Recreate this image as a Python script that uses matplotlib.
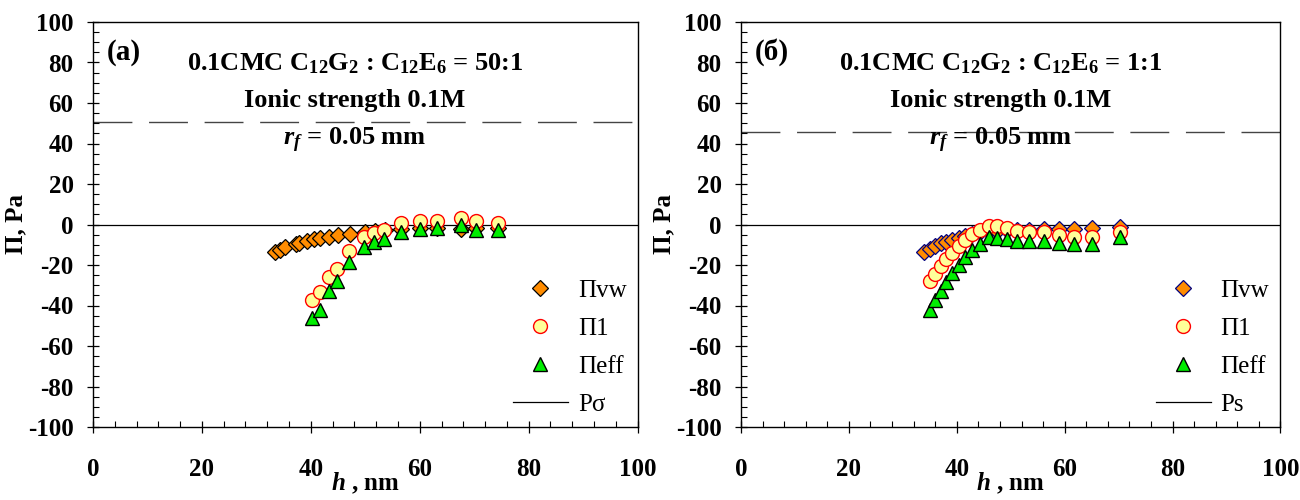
import matplotlib
matplotlib.use("Agg")
import matplotlib.pyplot as plt
from matplotlib.ticker import MultipleLocator

# serif bold everywhere, math parts too
plt.rcParams['font.family'] = ['Liberation Serif', 'DejaVu Serif']
plt.rcParams['mathtext.fontset'] = 'custom'
plt.rcParams['mathtext.rm'] = 'Liberation Serif:bold'
plt.rcParams['mathtext.bf'] = 'Liberation Serif:bold'
plt.rcParams['mathtext.it'] = 'Liberation Serif:italic:bold'
plt.rcParams['axes.unicode_minus'] = False

# (a) C12G2 : C12E6 = 50:1
h_vw_a = [33.5, 34.4, 35.3, 37.2, 37.8, 39.3, 40.6, 41.6, 43.3, 44.9, 47.2,
          50.0, 51.8, 53.6, 56.6, 60.0, 63.2, 67.5, 70.4, 74.3]
p_vw_a = [-13.5, -12.5, -11.0, -9.8, -9.0, -8.0, -7.2, -6.5, -6.0, -5.2, -4.5,
          -3.5, -3.0, -2.5, -2.0, -1.5, -1.5, -2.0, -1.5, -1.5]
h_a = [40.2, 41.6, 43.3, 44.8, 47.0, 49.8, 51.6, 53.5, 56.6, 60.0, 63.2, 67.5, 70.4, 74.3]
p1_a = [-37.5, -33.5, -26.0, -22.0, -13.0, -6.0, -4.0, -2.5, 0.5, 1.5, 1.5, 3.0, 1.5, 0.5]
peff_a = [-46.0, -42.0, -33.0, -28.0, -18.5, -11.0, -8.5, -7.0, -3.5, -2.0, -1.5, 0.0, -2.5, -2.5]
psigma_a = 50.5

# (б) C12G2 : C12E6 = 1:1
h_vw_b = [34.0, 35.0, 36.0, 37.0, 38.0, 39.2, 40.4, 41.6, 42.8, 44.3, 46.0,
          47.5, 49.3, 51.2, 53.3, 56.2, 58.9, 61.8, 65.0, 70.3]
p_vw_b = [-13.5, -12.0, -10.5, -9.3, -8.5, -7.5, -6.5, -5.5, -4.5, -3.5, -3.0,
          -3.0, -2.5, -2.5, -2.5, -2.0, -2.0, -2.0, -1.5, -1.0]
h_b = [35.0, 36.0, 37.0, 38.0, 39.2, 40.4, 41.6, 42.8, 44.3, 46.0, 47.5,
       49.3, 51.2, 53.3, 56.2, 58.9, 61.8, 65.0, 70.3]
p1_b = [-28.0, -24.5, -20.5, -17.0, -14.0, -10.5, -7.5, -4.5, -2.5, -0.5, -0.5,
        -1.5, -3.0, -3.5, -3.5, -5.0, -6.0, -6.0, -3.5]
peff_b = [-42.0, -37.5, -33.0, -28.5, -24.0, -20.0, -16.0, -12.5, -9.5, -6.0, -6.5,
          -7.0, -8.0, -8.0, -8.0, -9.0, -9.5, -9.5, -6.0]
psigma_b = 45.7

fig = plt.figure(figsize=(13, 5), dpi=100)
ax1 = fig.add_axes([0.0715, 0.146, 0.419, 0.81])
ax2 = fig.add_axes([0.570, 0.146, 0.415, 0.81])

panels = [
    (ax1, h_vw_a, p_vw_a, h_a, p1_a, peff_a, psigma_a, 'black', '(a)', '50:1', 'P\u03c3'),
    (ax2, h_vw_b, p_vw_b, h_b, p1_b, peff_b, psigma_b, 'navy', '(\u0431)', '1:1', 'Ps'),
]

for ax, hv, pv, h, p1, pe, ps, dedge, tag, ratio, pslab in panels:
    ax.axhline(ps, color='#444444', lw=1.0, dashes=(28, 12), zorder=1)
    ax.axhline(0, color='black', lw=0.9, zorder=1)
    ax.plot(hv, pv, 'D', ms=8, mfc='darkorange', mec=dedge, mew=0.9,
            label='\u03a0vw', zorder=3)
    ax.plot(h, p1, 'o', ms=10, mfc='#ffff99', mec='red', mew=1.0,
            label='\u03a01', zorder=4)
    ax.plot(h, pe, '^', ms=10, mfc='#00ee00', mec='black', mew=1.0,
            label='\u03a0eff', zorder=5)
    ax.plot([], [], '-', color='black', lw=0.9, label=pslab)

    ax.set_xlim(0, 100)
    ax.set_ylim(-100, 100)
    ax.xaxis.set_major_locator(MultipleLocator(20))
    ax.xaxis.set_minor_locator(MultipleLocator(4))
    ax.yaxis.set_major_locator(MultipleLocator(20))
    ax.yaxis.set_minor_locator(MultipleLocator(5))
    ax.tick_params(which='major', direction='inout', length=8, width=0.9,
                   labelsize=18)
    ax.tick_params(axis='x', which='major', pad=18)
    ax.tick_params(axis='y', which='major', pad=10)
    ax.tick_params(which='minor', direction='in', length=4, width=0.8)
    for lab in ax.get_xticklabels() + ax.get_yticklabels():
        lab.set_fontweight('bold')
    for sp in ax.spines.values():
        sp.set_linewidth(1.0)

    ax.set_xlabel('$h$ , nm', fontsize=18, fontweight='bold', labelpad=-7)
    ax.set_ylabel('\u03a0, Pa', fontsize=18, fontweight='bold', labelpad=0)

    ax.text(0.025, 0.925, tag, transform=ax.transAxes, fontsize=21,
            fontweight='bold', va='center')
    ax.text(0.481, 0.898, '0.1CMC C$_{12}$G$_2$ : C$_{12}$E$_6$ = ' + ratio,
            transform=ax.transAxes, fontsize=19, fontweight='bold', ha='center', va='center')
    ax.text(0.481, 0.805, 'Ionic strength 0.1M', transform=ax.transAxes,
            fontsize=19, fontweight='bold', ha='center', va='center')
    ax.text(0.481, 0.708, '$r_f$ = 0.05 mm', transform=ax.transAxes,
            fontsize=19, fontweight='bold', ha='center', va='center')

    ax.legend(loc='lower right', frameon=False, fontsize=18, handlelength=2.2,
              labelspacing=0.62, borderaxespad=0.05, handletextpad=0.4,
              bbox_to_anchor=(1.0, 0.0))

fig.savefig('out.png', dpi=100)
